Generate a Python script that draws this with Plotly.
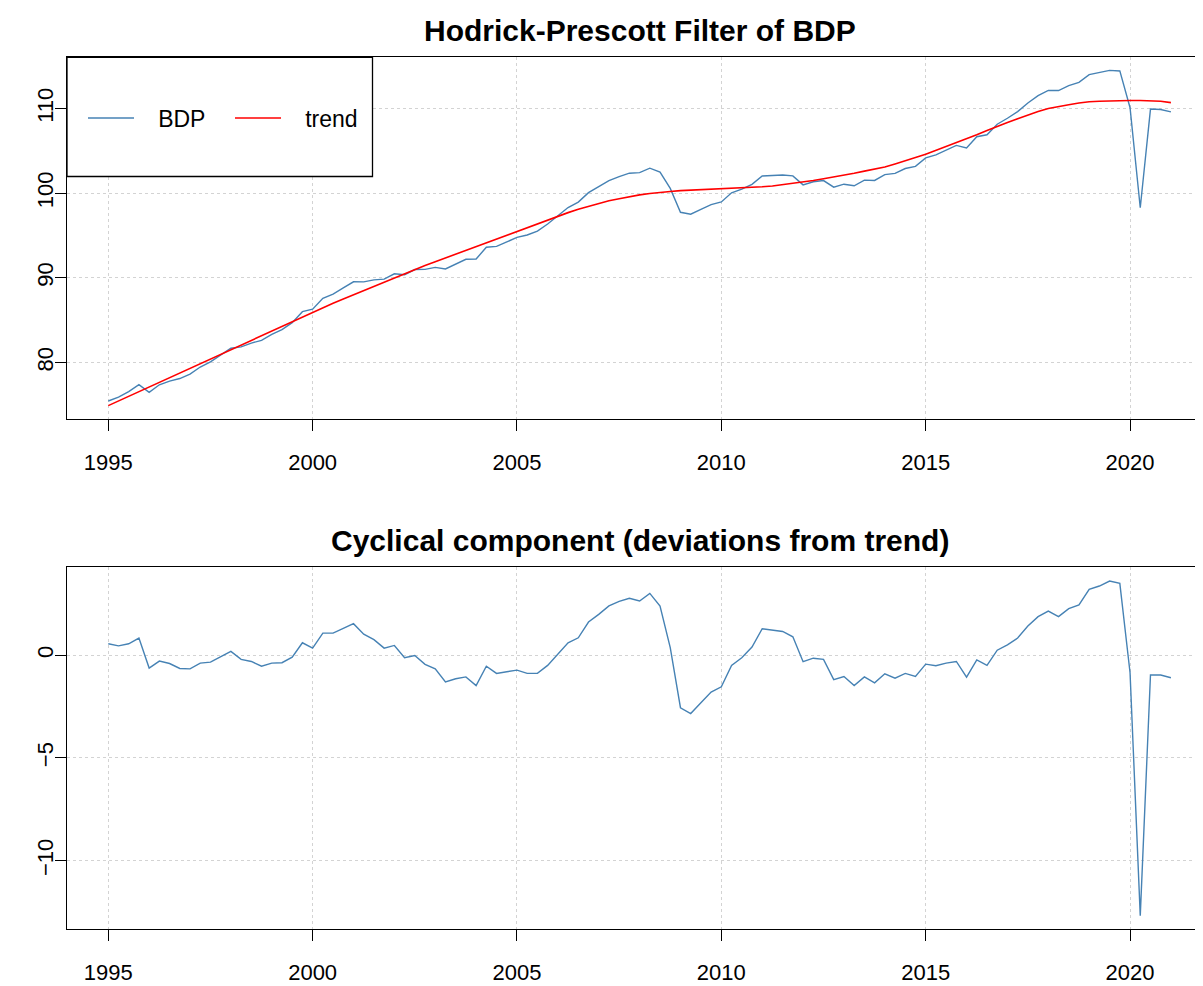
import plotly.graph_objects as go
from plotly.subplots import make_subplots

# Quarterly observations, 1995 Q1 .. 2021 Q1
start_year = 1995
n_quarters = 105
time = [start_year + q / 4 for q in range(n_quarters)]

bdp = [
    75.45, 75.90, 76.55, 77.38, 76.47, 77.36, 77.79, 78.10, 78.63, 79.46,
    80.06, 80.87, 81.68, 81.84, 82.29, 82.61, 83.31, 83.88, 84.70, 86.00,
    86.29, 87.57, 88.07, 88.80, 89.53, 89.52, 89.75, 89.84, 90.47, 90.37,
    90.98, 91.00, 91.23, 91.04, 91.65, 92.19, 92.22, 93.61, 93.71, 94.24,
    94.77, 95.06, 95.51, 96.35, 97.36, 98.30, 98.94, 100.06, 100.78, 101.49,
    101.96, 102.36, 102.43, 102.95, 102.49, 100.56, 97.74, 97.51, 98.08, 98.65,
    98.96, 100.05, 100.47, 101.04, 102.03, 102.07, 102.15, 102.04, 100.98, 101.35,
    101.49, 100.71, 101.06, 100.87, 101.54, 101.50, 102.19, 102.33, 102.91, 103.16,
    104.16, 104.53, 105.11, 105.64, 105.33, 106.67, 106.90, 108.14, 108.85, 109.63,
    110.66, 111.52, 112.14, 112.12, 112.71, 113.09, 114.00, 114.21, 114.50, 114.44,
    110.09, 98.27, 109.93, 109.88, 109.60,
]

trend = [
    74.90, 75.45, 76.00, 76.55, 77.10, 77.65, 78.20, 78.75, 79.30, 79.85,
    80.40, 80.95, 81.50, 82.05, 82.60, 83.15, 83.70, 84.25, 84.80, 85.40,
    85.95, 86.50, 87.00, 87.50, 88.00, 88.50, 89.00, 89.50, 90.00, 90.50,
    91.00, 91.45, 91.90, 92.35, 92.80, 93.25, 93.70, 94.15, 94.60, 95.05,
    95.50, 95.95, 96.40, 96.85, 97.30, 97.70, 98.10, 98.45, 98.80, 99.10,
    99.35, 99.60, 99.80, 99.95, 100.10, 100.20, 100.30, 100.35, 100.40, 100.45,
    100.50, 100.55, 100.60, 100.65, 100.75, 100.85, 101.00, 101.15, 101.30, 101.50,
    101.70, 101.90, 102.10, 102.35, 102.60, 102.85, 103.10, 103.45, 103.80, 104.20,
    104.60, 105.05, 105.50, 105.95, 106.40, 106.90, 107.40, 107.90, 108.35, 108.80,
    109.25, 109.65, 110.00, 110.25, 110.45, 110.65, 110.80, 110.85, 110.90, 110.95,
    110.95, 110.95, 110.90, 110.85, 110.70,
]

cycle = [
    0.55, 0.45, 0.55, 0.83, -0.63, -0.29, -0.41, -0.65, -0.67, -0.39,
    -0.34, -0.08, 0.18, -0.21, -0.31, -0.54, -0.39, -0.37, -0.10, 0.60,
    0.34, 1.07, 1.07, 1.30, 1.53, 1.02, 0.75, 0.34, 0.47, -0.13,
    -0.02, -0.45, -0.67, -1.31, -1.15, -1.06, -1.48, -0.54, -0.89, -0.81,
    -0.73, -0.89, -0.89, -0.50, 0.06, 0.60, 0.84, 1.61, 1.98, 2.39,
    2.61, 2.76, 2.63, 3.00, 2.39, 0.36, -2.56, -2.84, -2.32, -1.80,
    -1.54, -0.50, -0.13, 0.39, 1.28, 1.22, 1.15, 0.89, -0.32, -0.15,
    -0.21, -1.19, -1.04, -1.48, -1.06, -1.35, -0.91, -1.12, -0.89, -1.04,
    -0.44, -0.52, -0.39, -0.31, -1.07, -0.23, -0.50, 0.24, 0.50, 0.83,
    1.41, 1.87, 2.14, 1.87, 2.26, 2.44, 3.20, 3.36, 3.60, 3.49,
    -0.86, -12.68, -0.97, -0.97, -1.10,
]

x_ticks = [1995, 2000, 2005, 2010, 2015, 2020]
y_ticks_top = [80, 90, 100, 110]
y_ticks_bottom = [-10, -5, 0]

series_names = ["BDP", "trend"]
title_top = "Hodrick-Prescott Filter of BDP"
title_bottom = "Cyclical component (deviations from trend)"

FONT = "Liberation Sans, Arial, sans-serif"
# The page has an 8 px body margin; the figure is sized to fill the window.
OFF = 8
W, H = 1203 - OFF, 986 - OFF
L = 67 - OFF
GAP = "\u00a0\u00a0\u00a0"

fig = make_subplots(rows=2, cols=1)

fig.add_trace(go.Scatter(x=time, y=bdp, mode="lines", name=GAP + series_names[0],
                         line=dict(color="#4682B4", width=1.4)), row=1, col=1)
fig.add_trace(go.Scatter(x=time, y=trend, mode="lines", name=GAP + series_names[1],
                         line=dict(color="#FF0000", width=1.6)), row=1, col=1)
fig.add_trace(go.Scatter(x=time, y=cycle, mode="lines", name="cycle",
                         showlegend=False,
                         line=dict(color="#4682B4", width=1.4)), row=2, col=1)

def py(pix):
    # reference-screen pixel row -> paper y
    return 1 - (pix - OFF) / H

def px(pix):
    # reference-screen pixel column -> paper x
    return (pix - OFF - L) / (W - L)

xaxis_common = dict(
    range=[1993.99, 2021.785], tickmode="array", tickvals=x_ticks,
    ticks="outside", ticklen=11, tickwidth=1.3, tickcolor="black",
    showline=True, linecolor="black", linewidth=1.3, mirror=True,
    showgrid=True, gridcolor="#D3D3D3", griddash="dot", gridwidth=1,
    zeroline=False, tickfont=dict(family=FONT, size=22, color="black"),
    ticklabelstandoff=12, automargin=False,
)
yaxis_common = dict(
    tickmode="array", ticks="outside", ticklen=11, tickwidth=1.3, tickcolor="black",
    showline=True, linecolor="black", linewidth=1.3, mirror=False,
    showgrid=True, gridcolor="#D3D3D3", griddash="dot", gridwidth=1,
    zeroline=False, tickfont=dict(family=FONT, size=22, color="black"),
    tickangle=-90, ticklabelstandoff=-7, automargin=False,
)

fig.update_xaxes(**xaxis_common, domain=[0, 1])
fig.update_yaxes(**yaxis_common)
fig.update_yaxes(range=[73.32, 116.05], tickvals=y_ticks_top,
                 domain=[py(419), py(57.3)], row=1, col=1)
fig.update_yaxes(range=[-13.32, 4.27], tickvals=y_ticks_bottom,
                 domain=[py(929), py(567.3)], row=2, col=1)

fig.add_shape(type="rect", xref="paper", yref="paper",
              x0=0, x1=px(372.5), y0=py(176.5), y1=py(57.3),
              line=dict(color="black", width=1.3), fillcolor="white", layer="above")

fig.add_annotation(text="<b>" + title_top + "</b>", xref="paper", yref="paper",
                   x=px(640), y=py(30), xanchor="center", yanchor="middle",
                   showarrow=False, font=dict(family=FONT, size=30, color="black"))
fig.add_annotation(text="<b>" + title_bottom + "</b>", xref="paper", yref="paper",
                   x=px(640), y=py(540), xanchor="center", yanchor="middle",
                   showarrow=False, font=dict(family=FONT, size=30, color="black"))

fig.update_layout(
    width=W, height=H,
    margin=dict(l=L, r=0, t=0, b=0, autoexpand=False),
    paper_bgcolor="white", plot_bgcolor="white",
    showlegend=True,
    legend=dict(orientation="h", x=px(83), y=py(118), xanchor="left", yanchor="middle",
                bgcolor="rgba(0,0,0,0)", borderwidth=0,
                font=dict(family=FONT, size=23, color="black"),
                entrywidth=86, entrywidthmode="pixels", itemwidth=46),
)

fig.write_html("out.html")
